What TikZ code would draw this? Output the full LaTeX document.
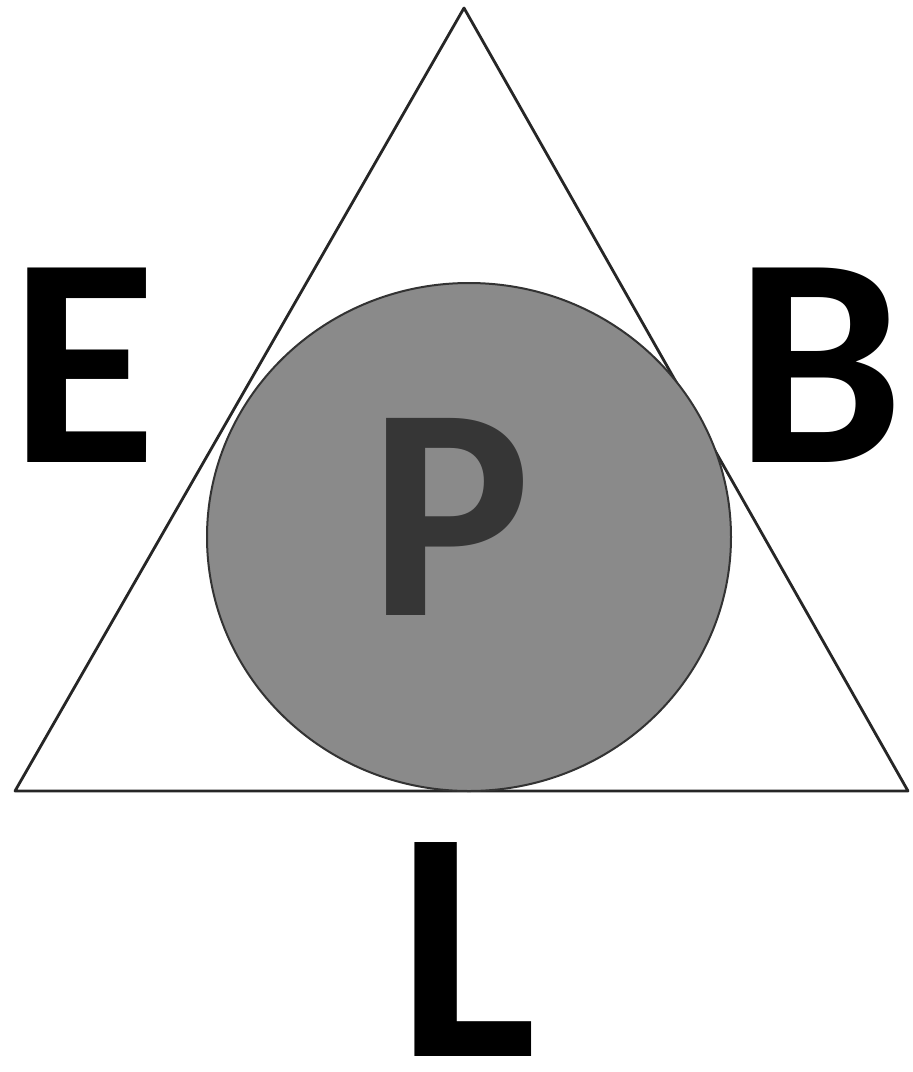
\documentclass[tikz,border=0pt]{standalone}
\usepackage{fontspec}
\setmainfont{Carlito}
\definecolor{discgray}{HTML}{8A8A8A}
\definecolor{pgray}{HTML}{363636}
\begin{document}
\begin{tikzpicture}[x=1pt,y=-1pt,
  bigletter/.style={inner sep=0pt, font=\bfseries\fontsize{300}{300}\selectfont, text=black},
  edge/.style={draw=black!85, line width=2.8pt, line join=round}]
\useasboundingbox (0,0) rectangle (913,1072);
\fill[white] (0,0) rectangle (913,1072);
% triangle
\coordinate (apex) at (464,8);
\coordinate (bl) at (15,791);
\coordinate (br) at (908,791);
\draw[edge] (apex) -- (bl) -- (br) -- cycle;
% disc
\coordinate (disc) at (469,537);
\fill[discgray] (disc) ellipse [x radius=262, y radius=254];
\draw[black!80, line width=2pt] (disc) ellipse [x radius=262, y radius=254];
% letters
\node[bigletter] (E) at (84,365) {E};
\node[bigletter] (B) at (820,365) {B};
\node[bigletter, text=pgray, font=\bfseries\fontsize{304}{304}\selectfont] (P) at (450,517) {P};
\node[bigletter, font=\bfseries\fontsize{330}{330}\selectfont] (L) at (467,949) {L};
\end{tikzpicture}
\end{document}
